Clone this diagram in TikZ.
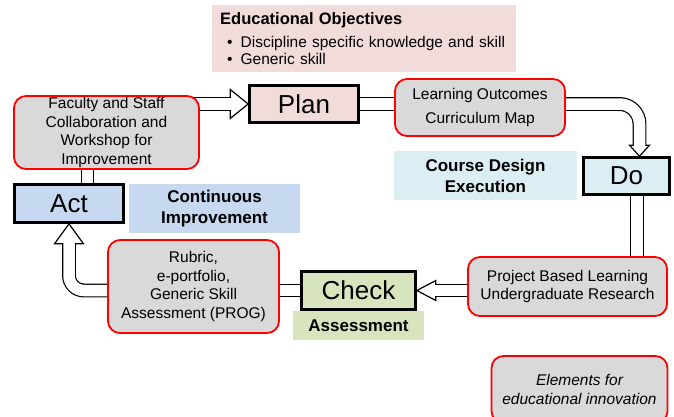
\documentclass[tikz,border=0pt]{standalone}
\usepackage{fontspec}
\setmainfont{Liberation Sans}
\usetikzlibrary{positioning}
\definecolor{redline}{RGB}{255,0,0}
\definecolor{boxgray}{RGB}{217,217,217}
\definecolor{pinkfill}{RGB}{242,220,219}
\definecolor{bluefill}{RGB}{198,217,240}
\definecolor{cyanfill}{RGB}{219,238,243}
\definecolor{greenfill}{RGB}{215,228,189}
\pgfdeclarelayer{bg}
\pgfsetlayers{bg,main}
\tikzset{
  elem/.style={rounded corners=12pt,draw=redline,line width=1.8pt,fill=boxgray,
               align=center,inner sep=0pt,font=\fontsize{15.5}{18.7}\selectfont},
  stage/.style={draw=black,line width=2.6pt,inner sep=0pt,
                font=\fontsize{26}{30}\selectfont},
  tag/.style={inner sep=0pt,align=center,font=\bfseries\fontsize{17}{21}\selectfont},
  pipe/.style={draw=black,line width=1.2pt,double=white,double distance=11.5pt},
  headfill/.style={draw=black,line width=1.2pt,fill=white,line join=miter}
}
% open block-arrow head: tip, direction, half width, length
\newcommand\openhead[4]{%
  \begin{scope}[shift={#1},rotate=#2]
    \draw[headfill] (0pt,0pt) -- (-#4pt,#3pt) -- (-#4pt,-#3pt) -- cycle;
  \end{scope}}

\begin{document}
\begin{tikzpicture}[x=1pt,y=-1pt]
  \useasboundingbox (0,0) rectangle (674,416);
  \clip (0,0) rectangle (674,416);

  % objectives
  \node[tag,fill=pinkfill,anchor=north west,text width=288pt,inner xsep=8pt,
        minimum height=67pt,align=left,font=\fontsize{15.5}{16.7}\selectfont]
    (obj) at (212,5)
    {{\bfseries\fontsize{16.5}{19}\selectfont Educational Objectives}\\[6pt]
     \hspace*{7pt}\textbullet\hspace{8pt}Discipline specific knowledge and skill\\
     \hspace*{7pt}\textbullet\hspace{8pt}Generic skill};

  % PDCA stages
  \node[stage,fill=pinkfill,minimum width=109pt,minimum height=37pt] (plan) at (304,104) {Plan};
  \node[stage,fill=cyanfill,minimum width=86pt,minimum height=37pt] (do) at (626.5,176) {Do};
  \node[stage,fill=greenfill,minimum width=114pt,minimum height=38pt] (chk) at (358.5,290.5) {Check};
  \node[stage,fill=bluefill,minimum width=109pt,minimum height=38pt] (act) at (69,203.5) {Act};

  % elements
  \node[elem,minimum width=185pt,minimum height=73pt] (fac) at (106.5,132.5)
    {Faculty and Staff\\Collaboration and\\Workshop for\\Improvement};
  \node[elem,minimum width=170pt,minimum height=57pt] (lo) at (480,107.5)
    {Learning Outcomes\\[5.3pt]Curriculum Map};
  \node[elem,minimum width=199pt,minimum height=59pt] (prj) at (567.5,286.5)
    {Project Based Learning\\Undergraduate Research};
  \node[elem,minimum width=171pt,minimum height=93pt] (rub) at (193.5,286.5)
    {Rubric,\\e-portfolio,\\Generic Skill\\Assessment (PROG)};
  \node[elem,minimum width=176pt,minimum height=67pt,font=\itshape\fontsize{15.5}{19}\selectfont]
    (elm) at (579.5,389.5) {Elements for\\educational innovation};

  % stage labels
  \node[tag,fill=bluefill,minimum width=171pt,minimum height=49pt] (cont) at (214.5,208.5)
    {Continuous\\Improvement};
  \node[tag,fill=cyanfill,minimum width=183pt,minimum height=49pt] (crs) at (485.5,175.5)
    {Course Design\\Execution};
  \node[tag,fill=greenfill,minimum width=131pt,minimum height=29pt,below=0pt of chk] (asm)
    {Assessment};

  % connectors
  \coordinate (dotop) at ([xshift=13pt]do.north);
  \begin{pgfonlayer}{bg}
    \openhead{(plan.west)}{0}{14.5}{18}
    \openhead{(dotop)}{-90}{10}{11}
    \openhead{(chk.east)}{180}{10}{19}
    \openhead{(act.south)}{90}{14.5}{20}
    \draw[pipe,shorten >=17.4pt] (fac.center |- plan.west) -- (plan.west);
    \draw[pipe] (plan.center) -- (lo.center |- plan.center);
    \draw[pipe,rounded corners=20pt,shorten >=10.4pt] (lo.center |- plan.center) -| (dotop);
    \draw[pipe] ([xshift=10.5pt]do.center) -- ([xshift=10.5pt]do.center |- prj.center);
    \draw[pipe,shorten >=18.4pt] (prj.center |- chk.east) -- (chk.east);
    \draw[pipe] (chk.center) -- (rub.center |- chk.center);
    \draw[pipe,rounded corners=15pt,shorten >=19.4pt] (rub.center |- chk.west) -| (act.south);
    \draw[pipe] ([xshift=18.5pt]act.center) -- ([xshift=18.5pt]act.center |- fac.center);
  \end{pgfonlayer}
\end{tikzpicture}
\end{document}
